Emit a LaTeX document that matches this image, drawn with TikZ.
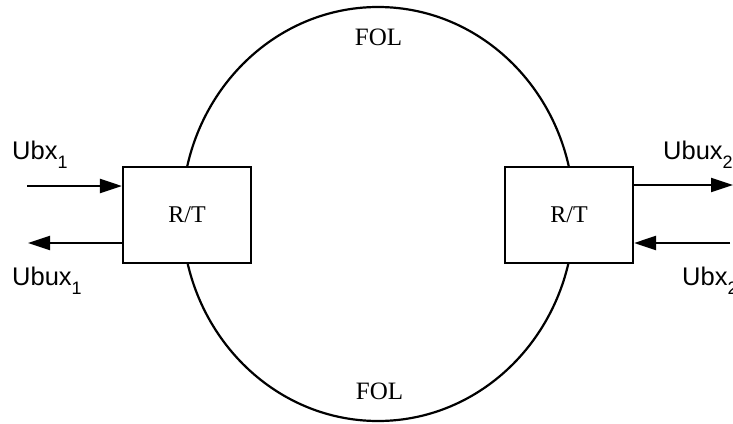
\documentclass[tikz,border=0pt]{standalone}
\usepackage{fontspec}
\setmainfont{Liberation Serif}
\setsansfont{Liberation Sans}
\usetikzlibrary{arrows.meta}
\begin{document}
\begin{tikzpicture}[x=1pt,y=-1pt,
  ln/.style={line width=2.2pt},
  rtbox/.style={draw,ln,fill=white,minimum width=128pt,minimum height=96pt,inner sep=0pt,
    font=\fontsize{24}{24}\selectfont},
  serlab/.style={font=\fontsize{25}{25}\selectfont,inner sep=0pt,anchor=base},
  sanslab/.style={font=\sffamily\fontsize{25.5}{25.5}\selectfont,inner sep=0pt,anchor=base west},
  arr/.style={ln,-{Triangle[length=22pt,width=14pt]}}]
\useasboundingbox (0,0) rectangle (733,423);
\draw[ln] (378,214) ellipse [x radius=196, y radius=207];
\node[rtbox] (lbox) at (187,215) {R/T};
\node[rtbox] (rbox) at (569,215) {R/T};
\node[serlab] (fol1) at (378.5,45) {FOL};
\node[serlab] (fol2) at (379.5,399) {FOL};
\coordinate (inA) at (27,186);
\coordinate (outA) at (28,243);
\coordinate (outB) at (733,185);
\coordinate (inB) at (730,243);
\draw[arr] (inA) -- (inA -| lbox.west);
\draw[arr] (outA -| lbox.west) -- (outA);
\draw[arr] (outB -| rbox.east) -- (outB);
\draw[arr] (inB) -- (inB -| rbox.east);
\newcommand{\sbx}[1]{\raisebox{-9pt}{\fontsize{18}{18}\selectfont #1}}
\node[sanslab] (l1) at (12,159) {Ubx\sbx{1}};
\node[sanslab] (l2) at (12,285) {Ubux\sbx{1}};
\node[sanslab] (l3) at (663,159) {Ubux\sbx{2}};
\node[sanslab] (l4) at (682,285) {Ubx\sbx{2}};
\end{tikzpicture}
\end{document}
